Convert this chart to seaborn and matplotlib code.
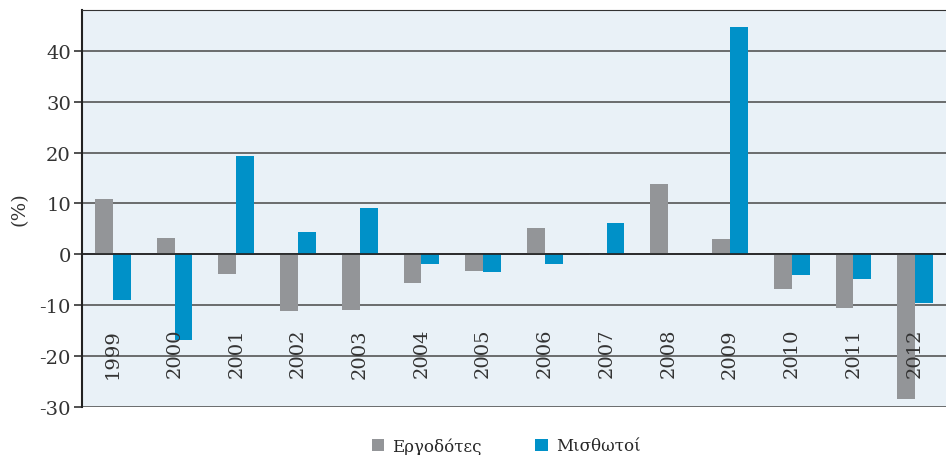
import numpy as np
import pandas as pd
import seaborn as sns
import matplotlib
matplotlib.use("Agg")
import matplotlib.pyplot as plt
from matplotlib.patches import Patch

years = ['1999', '2000', '2001', '2002', '2003', '2004', '2005',
         '2006', '2007', '2008', '2009', '2010', '2011', '2012']
ergodotes = [10.9, 3.2, -3.8, -11.2, -10.9, -5.6, -3.2,
             5.2, -0.2, 13.9, 3.0, -6.9, -10.5, -28.5]
misthotoi = [-8.9, -16.9, 19.4, 4.4, 9.1, -1.9, -3.4,
             -2.0, 6.2, 0.0, 44.7, -4.0, -4.8, -9.6]
series = ['Εργοδότες', 'Μισθωτοί']
colors = ['#939598', '#0091c8']
yticks = [-30, -20, -10, 0, 10, 20, 30, 40]

df = pd.DataFrame({
    'year': years * 2,
    'value': ergodotes + misthotoi,
    'who': [series[0]] * len(years) + [series[1]] * len(years),
})

sns.set_style('white')
plt.rcParams['font.family'] = ['DejaVu Serif']

fig = plt.figure(figsize=(9.46, 4.56), dpi=100)
ax = fig.add_axes([82 / 946, 1 - 408 / 456, 1 - 82 / 946, 397 / 456])
ax.set_facecolor('#e9f1f7')

sns.barplot(data=df, x='year', y='value', hue='who', palette=colors,
            width=0.58, gap=0, saturation=1, linewidth=0, ax=ax,
            legend=False, zorder=1)

ax.set_xlim(-0.5, 13.35)
ax.set_ylim(-30, 48)
ax.set_yticks(yticks)
ax.set_yticklabels([str(t) for t in yticks], fontsize=14, color='#333333')
ax.yaxis.grid(True, color='#555555', linewidth=1.2)
ax.set_axisbelow(True)
ax.xaxis.set_zorder(5)  # year labels sit on top of the bars

# x axis sits on the zero line, labels drawn inside the plot
ax.spines['bottom'].set_position(('data', 0))
ax.spines['bottom'].set_color('#222222')
ax.spines['bottom'].set_linewidth(1.2)
ax.spines['bottom'].set_zorder(4)
ax.spines['right'].set_visible(False)
ax.spines['top'].set_color('#333333')
ax.spines['left'].set_color('#222222')
ax.spines['left'].set_linewidth(1.5)

ax.set_xticks(range(len(years)))
ax.set_xticklabels(years, rotation=90, fontsize=14, color='#333333')
ax.set_xticks(np.arange(len(years)) + 0.5, minor=True)
ax.tick_params(axis='x', which='major', length=0, pad=53)
ax.tick_params(axis='x', which='minor', length=6, width=1.2, color='#555555', direction='out')
ax.tick_params(axis='y', length=6, width=1.2, color='#333333', left=True, pad=2)
ax.set_xlabel('')
ax.set_ylabel('(%)', fontsize=14, color='#333333', labelpad=8)

handles = [Patch(facecolor=c, edgecolor='none') for c in colors]
fig.legend(handles, series, loc='center', bbox_to_anchor=(0.535, 0.02),
           ncol=2, frameon=False, fontsize=12, handlelength=0.75, handleheight=0.75,
           handletextpad=0.5, columnspacing=3.2)

fig.savefig('out.png', dpi=100)
